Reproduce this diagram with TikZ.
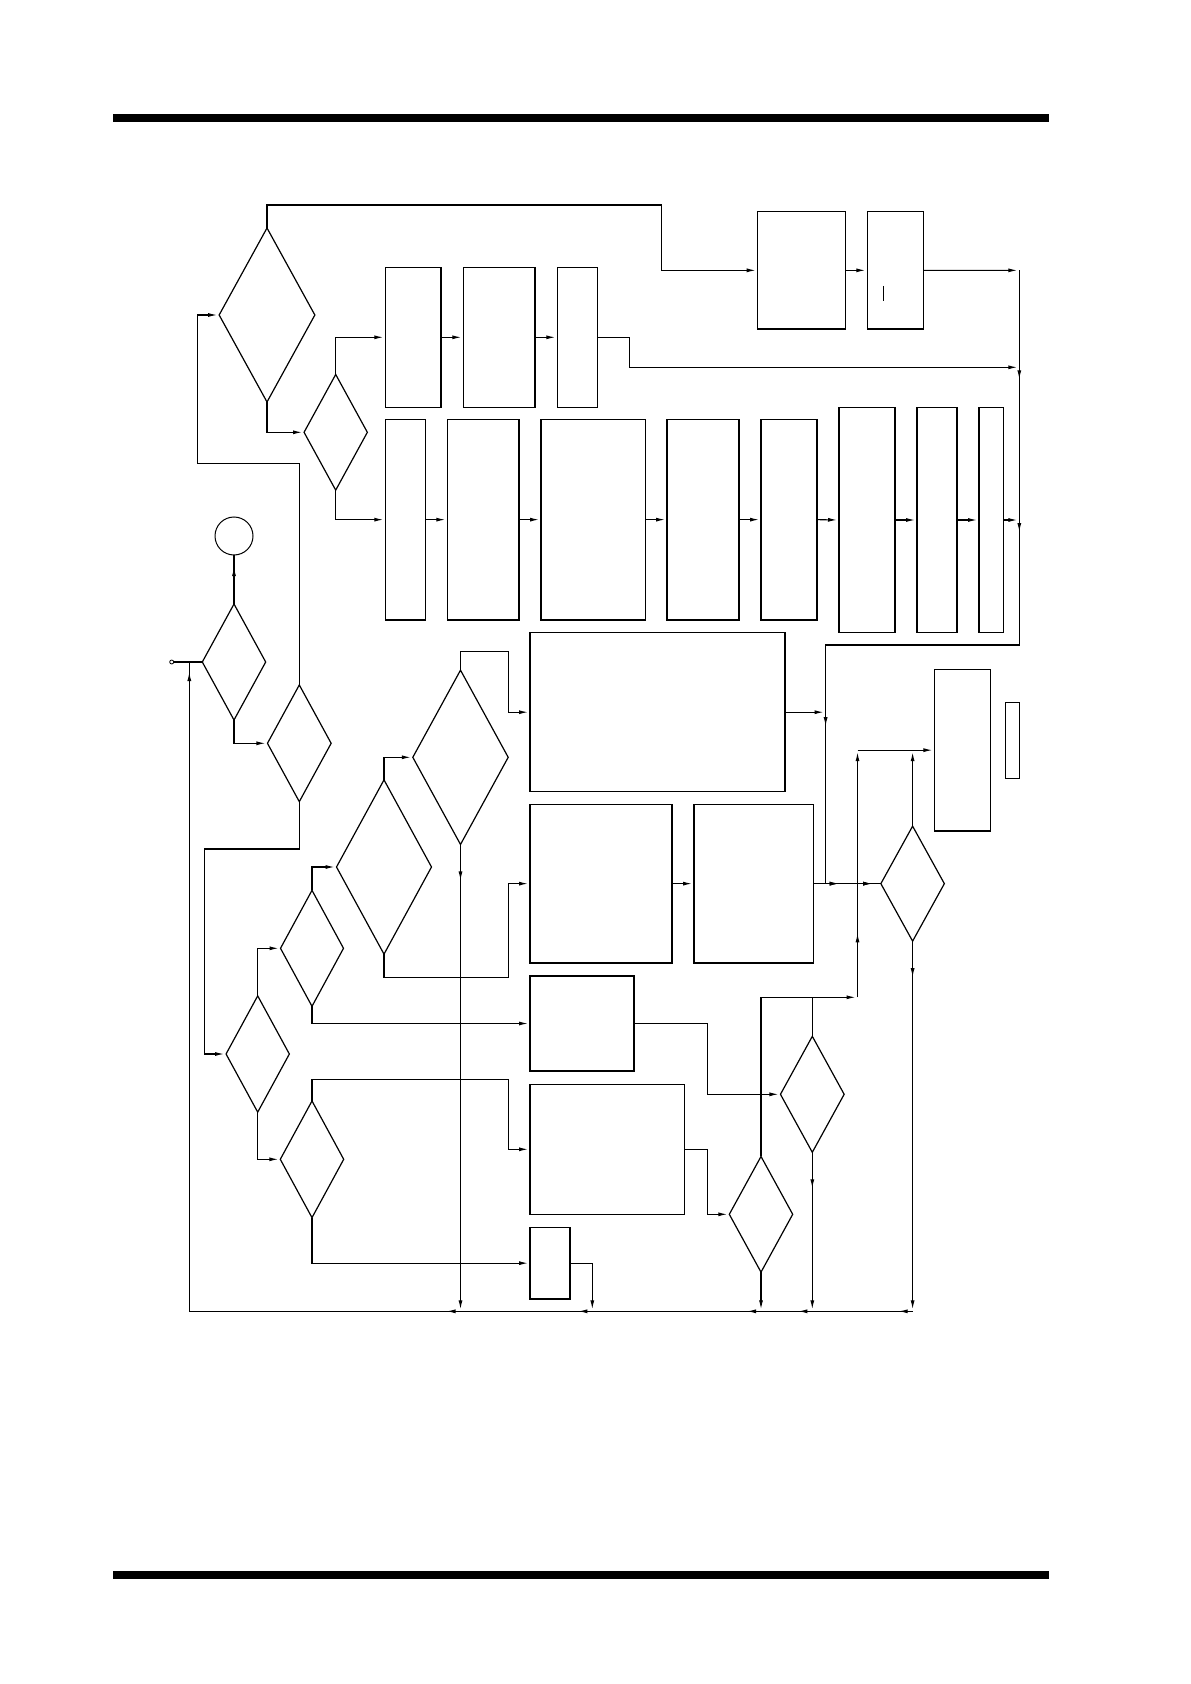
\documentclass[tikz,border=0pt]{standalone}
\usetikzlibrary{shapes.geometric,arrows.meta,decorations.markings}
\newcommand\mkbox[5]{\node[bxs,minimum width={(#3-#2)*0.5pt},minimum height={(#5-#4)*0.5pt}] (#1) at ({(#2+#3)/2},{(#4+#5)/2}) {};}
\newcommand\mkdia[5]{\node[dias,minimum width={#4*0.5pt},minimum height={#5*0.5pt}] (#1) at (#2,#3) {};}
\begin{document}
\begin{tikzpicture}[x=0.5pt,y=-0.5pt,
  ln/.style={line width=0.55pt},
  arr/.style={ln,-{Latex[length=4.5pt,width=2pt]},shorten >=1pt},
  bxs/.style={draw,line width=0.7pt,rectangle,inner sep=0pt,outer sep=0pt},
  dias/.style={draw,line width=0.6pt,diamond,inner sep=0pt,outer sep=0pt},
  midarr/.style={postaction={decorate},decoration={markings,mark=at position #1 with {\arrow{Latex[length=4.5pt,width=2pt]}}}}]
\useasboundingbox (0,0) rectangle (1190,1684);
% page rules
\fill (113,114) rectangle (1049.3,122);
\fill (113,1571) rectangle (1049.3,1579);
% boxes
\mkbox{A1}{757.7}{845.3}{211.7}{329}
\mkbox{A2}{867.3}{923.7}{211.7}{329}
\mkbox{B1}{385.3}{441}{267.3}{407.3}
\mkbox{B2}{463.3}{535}{267.3}{407.3}
\mkbox{B3}{557.3}{597.5}{267.3}{407.3}
\mkbox{C1}{385.3}{425.3}{419.3}{620}
\mkbox{C2}{447.3}{519}{419.3}{620}
\mkbox{C3}{541}{645.3}{419.3}{620}
\mkbox{C4}{667}{739}{419.3}{620}
\mkbox{C5}{761}{817}{419.3}{620}
\mkbox{C6}{839}{895}{407.3}{632.7}
\mkbox{C7}{917}{957}{407.3}{632.7}
\mkbox{C8}{979}{1003.3}{407.3}{632.7}
\mkbox{E1}{530}{785}{632.7}{791.7}
\mkbox{E2}{530}{672}{804.3}{963}
\mkbox{E6}{694}{813.3}{804.3}{963}
\mkbox{E3}{530}{634}{976}{1071}
\mkbox{E4}{530}{684.7}{1084.3}{1214.3}
\mkbox{E5}{530}{570}{1227.3}{1299}
\mkbox{F1}{934.4}{990.5}{669.3}{831}
\mkbox{F2}{1005.6}{1019.3}{702.3}{778.3}
\draw[line width=0.6pt] (883.3,286) -- (883.3,300.7);
% diamonds
\mkdia{D1}{267}{315}{95.7}{174}
\mkdia{D2}{335.7}{432.3}{63.3}{115.7}
\mkdia{D3}{234}{662}{63.4}{116}
\mkdia{D4}{299.3}{743.3}{63.7}{116.7}
\mkdia{D5}{257.7}{1054}{63.3}{116.3}
\mkdia{D6}{312}{948.3}{63}{116}
\mkdia{D7}{384}{867}{95}{174.3}
\mkdia{D8}{460.5}{757.3}{95.4}{174.3}
\mkdia{D9}{312}{1159.3}{63.4}{116.7}
\mkdia{D10}{761}{1214.3}{63.4}{115.7}
\mkdia{D11}{812.3}{1094.3}{63.7}{116}
\mkdia{D12}{912.6}{883.65}{63.5}{115}
% circles
\node[draw,circle,line width=0.5pt,inner sep=0pt,outer sep=0pt,minimum size=19pt] (circ) at (234,536) {};
\node[draw,circle,line width=0.4pt,inner sep=0pt,outer sep=0pt,minimum size=2pt] (S) at (171.7,662) {};
% coordinates
\coordinate (t1) at (661.3,205);
\coordinate (R1) at (1019.3,270.35);
\coordinate (J1) at (1019.3,367.3);
\coordinate (J2) at (1019.3,520);
\coordinate (R2) at (1019.3,645);
\coordinate (R3) at (825.6,645);
\coordinate (J3) at (825.6,712.2);
\coordinate (R4) at (825.6,883.65);
\coordinate (q1) at (629.3,367.3);
\coordinate (k1) at (197.3,463.3);
\coordinate (k2) at (204.3,849);
\coordinate (k3) at (508.3,977.3);
\coordinate (k4) at (508.3,651.3);
\coordinate (k5) at (707.3,1149.3);
\coordinate (k6) at (707.3,1023.5);
\coordinate (k7) at (508.3,1079.3);
\coordinate (m1) at (761,997.3);
\coordinate (m2) at (812.3,997.3);
\coordinate (m3) at (857.5,997.3);
\coordinate (m4) at (857.5,750.15);
\coordinate (m5) at (912.6,750.15);
\coordinate (b5) at (912.6,1311.3);
\coordinate (b4) at (812.3,1311.3);
\coordinate (b3) at (761,1311.3);
\coordinate (b2) at (592.3,1311.3);
\coordinate (b1) at (460.5,1311.3);
\coordinate (BL) at (189.3,1311.3);
\coordinate (L1) at (189.3,662);
% top part
\draw[arr] (D1.north) |- (t1) |- (A1.west);
\draw[arr] (A1.east) -- (A2.west);
\draw[arr] (A2.east) -- (R1);
\draw[ln] (R1) -- (J1);
\draw[ln,midarr=6pt] (J1) -- (J2);
\draw[ln,midarr=6pt] (J2) -- (R2) -- (R3) -- (J3);
\draw[ln,midarr=7pt] (J3) -- (R4);
\draw[arr] (D1.south) |- (D2.west);
\draw[arr] (D2.north) |- (B1.west);
\draw[arr] (B1.east) -- (B2.west);
\draw[arr] (B2.east) -- (B3.west);
\draw[arr] (B3.east) -| (q1) -- (J1);
\draw[arr] (D2.south) |- (C1.west);
\draw[arr] (C1.east) -- (C2.west);
\draw[arr] (C2.east) -- (C3.west);
\draw[arr] (C3.east) -- (C4.west);
\draw[arr] (C4.east) -- (C5.west);
\draw[arr] (C5.east) -- (C6.west);
\draw[arr] (C6.east) -- (C7.west);
\draw[arr] (C7.east) -- (C8.west);
\draw[arr] (C8.east) -- (J2);
% left part
\draw[ln,midarr=-6pt] (D3.north) -- (circ.south);
\draw[ln] (S) -- (D3.west);
\draw[arr] (D3.south) |- (D4.west);
\draw[arr] (D4.north) |- (k1) |- (D1.west);
\draw[arr] (D4.south) |- (k2) |- (D5.west);
\draw[arr] (D5.north) |- (D6.west);
\draw[arr] (D5.south) |- (D9.west);
\draw[arr] (D6.north) |- (D7.west);
\draw[arr] (D6.south) |- (E3.west);
\draw[arr] (D7.north) |- (D8.west);
\draw[arr] (D7.south) |- (k3) |- (E2.west);
\draw[arr] (D8.north) |- (k4) |- (E1.west);
\draw[arr,midarr=18pt] (D8.south) -- (b1);
\draw[arr] (D9.north) |- (k7) |- (E4.west);
\draw[arr] (D9.south) |- (E5.west);
\draw[arr] (E5.east) -| (b2);
% middle/right part
\draw[arr] (E1.east) -- (J3);
\draw[arr] (E2.east) -- (E6.west);
\draw[ln,midarr=12.7pt,midarr=29.4pt] (E6.east) -- (D12.west);
\draw[arr] (E4.east) -- (k5) |- (D10.west);
\draw[arr] (E3.east) -- (k6) |- (D11.west);
\draw[ln] (D10.north) -- (m1);
\draw[ln] (D11.north) -- (m2);
\draw[arr] (m1) -- (m3);
\draw[arr,midarr=32pt] (m3) -- (m4);
\draw[arr] (m4) -- (F1.west);
\draw[arr] (D12.north) -- (m5);
\draw[arr,midarr=18pt] (D12.south) -- (b5);
\draw[arr,midarr=18pt] (D11.south) -- (b4);
\draw[arr] (D10.south) -- (b3);
% bottom return line
\draw[ln,midarr=7pt] (b5) -- (b4);
\draw[ln,midarr=7pt] (b4) -- (b3);
\draw[ln,midarr=7pt] (b3) -- (b2);
\draw[ln,midarr=7pt] (b2) -- (b1);
\draw[ln,midarr=7pt] (b1) -- (BL);
\draw[ln,midarr=-5pt] (BL) -- (L1);
\end{tikzpicture}
\end{document}
